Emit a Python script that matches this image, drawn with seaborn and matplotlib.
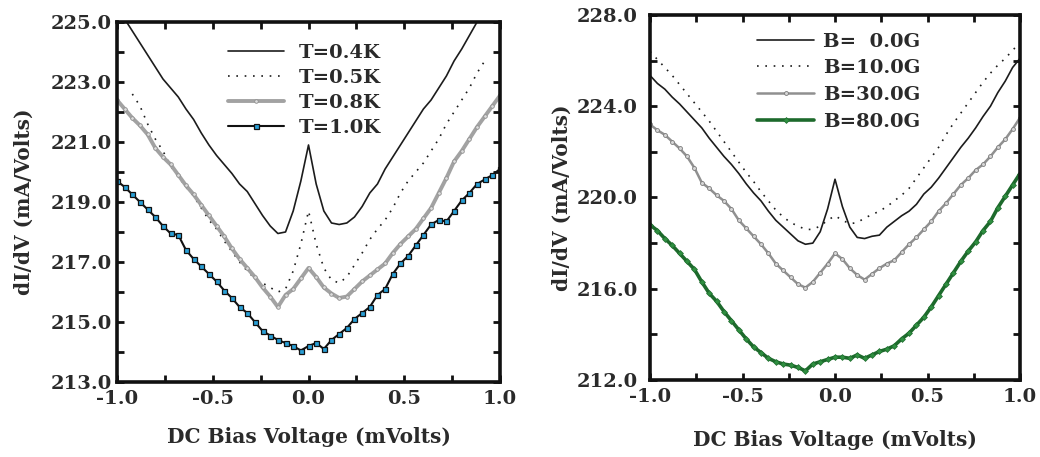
import numpy as np
import pandas as pd
import matplotlib
matplotlib.use("Agg")
import matplotlib.pyplot as plt
from matplotlib.ticker import MultipleLocator, FixedLocator, FormatStrFormatter
import seaborn as sns

# ---------------- data ----------------
bias = [round(-1.0 + 0.04 * i, 2) for i in range(51)]

t04 = [225.5, 225.1, 224.7, 224.3, 223.9, 223.5, 223.1, 222.8, 222.5, 222.1,
       221.75, 221.3, 220.9, 220.55, 220.25, 219.95, 219.6, 219.35, 218.95, 218.55,
       218.2, 217.95, 218.0, 218.7, 219.7, 220.9, 219.6, 218.7, 218.3, 218.25,
       218.3, 218.5, 218.85, 219.3, 219.6, 220.1, 220.5, 220.9, 221.3, 221.7,
       222.1, 222.4, 222.8, 223.2, 223.7, 224.1, 224.55, 225.0, 225.4, 225.8, 226.2]
t05 = [np.nan, np.nan, 222.6, 222.2, 221.6, 221.1, 220.7, 220.2, 219.85, 219.5,
       219.2, 218.8, 218.4, 218.1, 217.7, 217.35, 217.0, 216.7, 216.45, 216.3,
       216.15, 216.0, 216.1, 216.7, 217.6, 218.7, 217.6, 216.8, 216.4, 216.3,
       216.5, 216.9, 217.3, 217.75, 218.1, 218.4, 218.8, 219.3, 219.7, 220.0,
       220.3, 220.7, 221.1, 221.6, 222.0, 222.4, 222.8, 223.3, 223.7, np.nan, np.nan]
t08 = [222.4, 222.1, 221.8, 221.55, 221.25, 220.8, 220.5, 220.25, 219.9, 219.55,
       219.25, 218.9, 218.55, 218.2, 217.85, 217.45, 217.1, 216.8, 216.5, 216.15,
       215.85, 215.5, 215.9, 216.1, 216.45, 216.8, 216.5, 216.15, 215.95, 215.8,
       215.85, 216.1, 216.35, 216.55, 216.75, 216.95, 217.3, 217.6, 217.85, 218.1,
       218.45, 218.8, 219.3, 219.8, 220.35, 220.7, 221.1, 221.5, 221.85, 222.2, 222.55]
t10 = [219.7, 219.5, 219.25, 219.0, 218.75, 218.5, 218.2, 217.95, 217.9, 217.4,
       217.1, 216.85, 216.6, 216.35, 216.05, 215.8, 215.5, 215.3, 215.0, 214.7,
       214.55, 214.4, 214.3, 214.2, 214.05, 214.2, 214.3, 214.1, 214.4, 214.6,
       214.8, 215.1, 215.3, 215.5, 215.9, 216.1, 216.6, 216.95, 217.2, 217.55,
       217.9, 218.25, 218.4, 218.35, 218.7, 219.05, 219.3, 219.6, 219.75, 219.9, 220.1]

b00 = [225.35, 225.0, 224.75, 224.4, 224.1, 223.75, 223.4, 223.05, 222.6, 222.2,
       221.8, 221.45, 221.05, 220.6, 220.2, 219.85, 219.4, 219.0, 218.7, 218.4,
       218.1, 217.95, 218.0, 218.5, 219.5, 220.8, 219.6, 218.7, 218.25, 218.2,
       218.3, 218.35, 218.7, 218.95, 219.2, 219.4, 219.7, 220.15, 220.45, 220.85,
       221.3, 221.75, 222.2, 222.6, 223.05, 223.55, 224.0, 224.6, 225.1, 225.7, 226.1]
b10 = [226.4, 226.05, 225.7, 225.35, 224.95, 224.55, 224.15, 223.75, 223.35, 222.9,
       222.45, 222.0, 221.55, 221.1, 220.7, 220.25, 219.85, 219.45, 219.15, 218.9,
       218.75, 218.6, 218.6, 218.75, 219.0, 219.2, 219.0, 218.85, 218.9, 219.1,
       219.25, 219.4, 219.6, 219.85, 220.1, 220.4, 220.85, 221.3, 221.75, 222.2,
       222.75, 223.25, 223.7, 224.15, 224.6, 225.05, 225.45, 225.8, 226.1, 226.45, 226.8]
b30 = [223.2, 222.95, 222.75, 222.45, 222.15, 221.8, 221.3, 220.65, 220.4, 220.1,
       219.85, 219.5, 219.0, 218.65, 218.3, 217.95, 217.55, 217.1, 216.8, 216.5,
       216.2, 216.05, 216.3, 216.7, 217.1, 217.55, 217.3, 216.9, 216.6, 216.4,
       216.65, 216.9, 217.1, 217.25, 217.6, 217.95, 218.25, 218.6, 218.95, 219.4,
       219.75, 220.15, 220.55, 220.85, 221.2, 221.45, 221.8, 222.2, 222.55, 223.0, 223.5]
b80 = [218.8, 218.55, 218.2, 217.9, 217.55, 217.2, 216.85, 216.3, 215.8, 215.45,
       215.0, 214.6, 214.2, 213.8, 213.45, 213.2, 212.95, 212.8, 212.7, 212.65,
       212.55, 212.4, 212.7, 212.8, 212.9, 213.0, 213.0, 212.95, 213.1, 212.95,
       213.1, 213.25, 213.35, 213.5, 213.8, 214.05, 214.4, 214.75, 215.2, 215.7,
       216.2, 216.7, 217.2, 217.65, 218.05, 218.55, 218.95, 219.55, 220.05, 220.55, 221.05]

t_labels = ["T=0.4K", "T=0.5K", "T=0.8K", "T=1.0K"]
b_labels = ["B=  0.0G", "B=10.0G", "B=30.0G", "B=80.0G"]
x_ticks = [-1.0, -0.5, 0.0, 0.5, 1.0]
yticks_left = [213.0, 215.0, 217.0, 219.0, 221.0, 223.0, 225.0]
yticks_right = [212.0, 216.0, 220.0, 224.0, 228.0]
xlabel = "DC Bias Voltage (mVolts)"
ylabel = "dI/dV (mA/Volts)"

# ---------------- style ----------------
sns.set_style("ticks")
FONT = ["DejaVu Serif"]
plt.rcParams["font.family"] = FONT
plt.rcParams["font.weight"] = "bold"
plt.rcParams["axes.labelweight"] = "bold"

fig = plt.figure(figsize=(10.4, 4.57), dpi=100)
axL = fig.add_axes([0.1125, 0.1641, 0.3683, 0.7878])
axR = fig.add_axes([0.625, 0.1685, 0.3558, 0.7987])

styles = [
    dict(color="#1c1c1c", linewidth=1.2),
    dict(color="#1c1c1c", linewidth=1.2, linestyle=(0, (1, 4))),
    dict(color="#a2a2a2", linewidth=2.8, marker="o", markersize=2.6,
         markerfacecolor="#dcdcdc", markeredgecolor="#8f8f8f", markeredgewidth=0.6),
    dict(color="#111111", linewidth=1.5, marker="s", markersize=3.6,
         markerfacecolor="#2a9fd6", markeredgecolor="#111111", markeredgewidth=0.9),
]
styles_b = [
    dict(color="#1c1c1c", linewidth=1.2),
    dict(color="#1c1c1c", linewidth=1.2, linestyle=(0, (1, 4))),
    dict(color="#909090", linewidth=1.8, marker="o", markersize=2.8,
         markerfacecolor="#d6d6d6", markeredgecolor="#7a7a7a", markeredgewidth=0.6),
    dict(color="#1d6a2c", linewidth=2.6, marker="D", markersize=3.0,
         markerfacecolor="#2f8f40", markeredgecolor="#1d6a2c", markeredgewidth=0.5),
]

for ys, lab, st in zip([t04, t05, t08, t10], t_labels, styles):
    sns.lineplot(x=bias, y=ys, ax=axL, label=lab, legend=False, **st)
for ys, lab, st in zip([b00, b10, b30, b80], b_labels, styles_b):
    sns.lineplot(x=bias, y=ys, ax=axR, label=lab, legend=False, **st)


def style_axes(ax, ylo, yhi, yticks, yminor, ypad, xlabelpad, ylabelpad):
    ax.set_xlim(-1.0, 1.0)
    ax.set_ylim(ylo, yhi)
    ax.xaxis.set_major_locator(FixedLocator(x_ticks))
    ax.xaxis.set_minor_locator(MultipleLocator(0.25))
    ax.yaxis.set_major_locator(FixedLocator(yticks))
    ax.yaxis.set_minor_locator(MultipleLocator(yminor))
    ax.xaxis.set_major_formatter(FormatStrFormatter("%.1f"))
    ax.yaxis.set_major_formatter(FormatStrFormatter("%.1f"))
    ax.tick_params(which="both", direction="in", top=True, right=True,
                   width=2.0, colors="#111111")
    ax.tick_params(which="major", length=5, labelsize=14)
    ax.tick_params(which="minor", length=5)
    ax.tick_params(axis="x", which="major", pad=6)
    ax.tick_params(axis="y", which="major", pad=ypad)
    for lbl in ax.get_xticklabels() + ax.get_yticklabels():
        lbl.set_fontweight("bold")
        lbl.set_color("#2a2a2a")
    for sp in ax.spines.values():
        sp.set_linewidth(2.6)
        sp.set_color("#111111")
    ax.set_xlabel(xlabel, fontsize=14.5, fontweight="bold", color="#2a2a2a", labelpad=xlabelpad)
    ax.set_ylabel(ylabel, fontsize=14.5, fontweight="bold", color="#2a2a2a", labelpad=ylabelpad)


style_axes(axL, 213.0, 225.0, yticks_left, 1.0, 4, 13.5, 12)
style_axes(axR, 212.0, 228.0, yticks_right, 2.0, 9, 17, 3.5)

for ax, anchor, lsp, htp in [(axL, (0.29, 0.938), 0.36, 0.75),
                              (axR, (0.29, 0.952), 0.45, 0.5)]:
    leg = ax.legend(loc="upper left", bbox_to_anchor=anchor, frameon=False,
                    handlelength=2.9, handletextpad=htp,
                    labelspacing=lsp, borderpad=0, borderaxespad=0,
                    numpoints=1, prop={"family": FONT, "weight": "bold", "size": 14})
    for txt in leg.get_texts():
        txt.set_color("#2a2a2a")

fig.savefig("out.png", dpi=100)
